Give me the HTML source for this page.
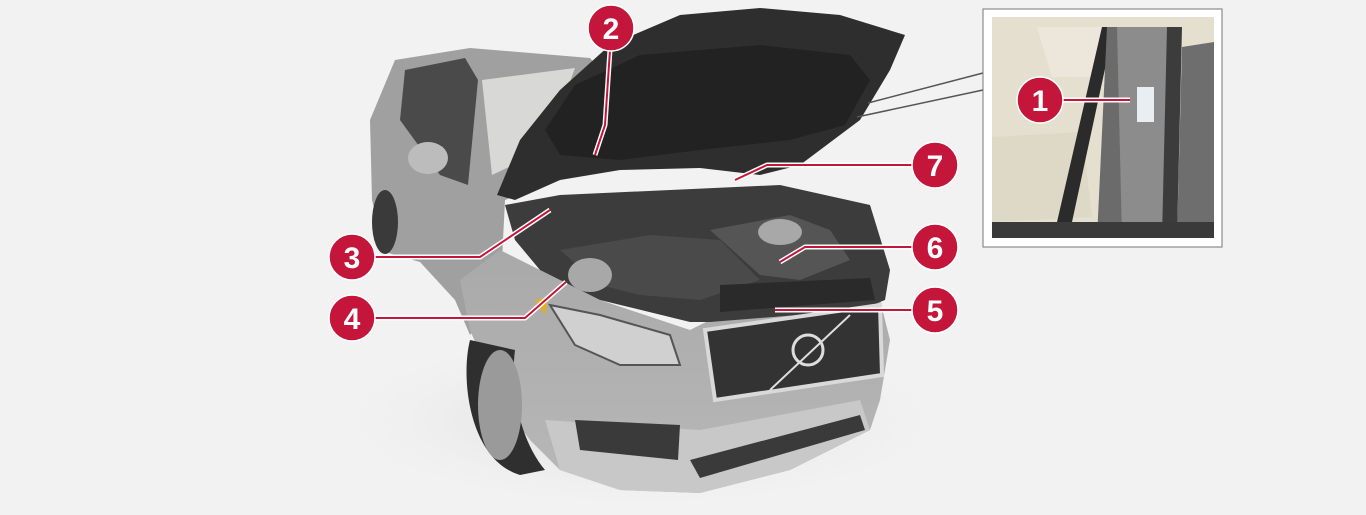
<!DOCTYPE html>
<html><head><meta charset="utf-8"><style>
html,body{margin:0;padding:0;background:#f2f2f2;}
svg{display:block}
text{font-family:"Liberation Sans",sans-serif;font-weight:bold;fill:#fff;font-size:30px}
</style></head><body>
<svg width="1366" height="515" viewBox="0 0 1366 515" xmlns="http://www.w3.org/2000/svg">
<defs>
<linearGradient id="body" x1="0" y1="0" x2="0" y2="1"><stop offset="0" stop-color="#a9a9a9"/><stop offset="1" stop-color="#b8b8b8"/></linearGradient>
<radialGradient id="shadow" cx="0.5" cy="0.5" r="0.5"><stop offset="0" stop-color="#d6d6d6"/><stop offset="1" stop-color="#f2f2f2" stop-opacity="0"/></radialGradient>
</defs>
<rect width="1366" height="515" fill="#f2f2f2"/>
<ellipse cx="640" cy="420" rx="330" ry="95" fill="url(#shadow)"/>
<!-- car side body -->
<path d="M395 60 L470 48 L590 58 L600 70 L560 180 L505 200 L500 300 L470 335 L455 300 L420 262 L385 252 L372 200 L370 120 Z" fill="#a0a0a0"/>
<path d="M405 70 L465 58 L478 80 L468 185 L440 175 L400 120 Z" fill="#4a4a4a"/>
<path d="M482 80 L575 68 L545 150 L492 175 Z" fill="#d8d8d6"/>
<ellipse cx="428" cy="158" rx="20" ry="16" fill="#bcbcbc"/>
<!-- rear wheel -->
<ellipse cx="385" cy="222" rx="13" ry="32" fill="#3a3a3a"/>
<!-- front body -->
<path d="M500 250 L600 300 L690 330 L710 320 L880 300 L890 340 L880 400 L870 430 L790 470 L700 493 L620 490 L560 470 L530 440 L500 400 L470 330 L460 280 Z" fill="url(#body)"/>
<path d="M545 420 L700 430 L860 400 L870 430 L790 470 L700 493 L620 490 L560 470 Z" fill="#c8c8c8"/>
<!-- front wheel -->
<path d="M470 340 C460 380 470 460 520 475 L545 470 C520 440 510 390 515 350 Z" fill="#2f2f2f"/>
<ellipse cx="500" cy="405" rx="22" ry="55" fill="#9a9a9a"/>
<!-- engine bay -->
<path d="M505 205 L560 195 L780 185 L870 205 L890 270 L885 300 L860 310 L710 322 L690 322 L600 300 L540 270 L515 240 Z" fill="#3c3c3c"/>
<path d="M560 250 L650 235 L720 240 L760 280 L700 300 L640 295 L600 285 Z" fill="#4a4a4a"/>
<path d="M710 230 L790 215 L830 230 L850 260 L800 280 L760 275 Z" fill="#555"/>
<ellipse cx="590" cy="275" rx="22" ry="17" fill="#a8a8a8"/>
<ellipse cx="780" cy="232" rx="22" ry="13" fill="#a8a8a8"/>
<path d="M720 285 L870 278 L875 300 L720 312 Z" fill="#2a2a2a"/>
<!-- headlight -->
<path d="M550 305 L600 315 L670 335 L680 365 L620 365 L575 345 Z" fill="#d0d0d0" stroke="#555" stroke-width="2"/>
<path d="M535 300 L548 297 L545 315 Z" fill="#e0b020"/>
<!-- grille -->
<path d="M705 330 L880 305 L882 375 L715 400 Z" fill="#333" stroke="#d9d9d9" stroke-width="4"/>
<circle cx="808" cy="350" r="15" fill="#333" stroke="#ddd" stroke-width="3"/>
<line x1="770" y1="390" x2="850" y2="315" stroke="#ddd" stroke-width="2"/>
<!-- lower bumper -->
<path d="M575 420 L680 425 L678 460 L580 450 Z" fill="#3a3a3a"/>
<path d="M690 460 L860 415 L865 430 L700 478 Z" fill="#3a3a3a"/>
<!-- hood -->
<path d="M497 195 L520 140 L560 90 L610 45 L680 15 L760 8 L840 15 L905 35 L890 70 L860 120 L800 165 L760 175 L700 168 L620 170 L560 180 L515 200 Z" fill="#2e2e2e"/>
<path d="M545 130 L575 85 L640 55 L760 45 L850 55 L870 80 L845 125 L790 140 L700 150 L620 160 L560 155 Z" fill="#222"/>
<!-- inset connectors -->
<line x1="983" y1="73" x2="868" y2="103" stroke="#555" stroke-width="1.5"/>
<line x1="983" y1="90" x2="857" y2="117" stroke="#555" stroke-width="1.5"/>
<!-- inset -->
<rect x="983" y="9" width="239" height="238" fill="#fff" stroke="#777" stroke-width="1"/>
<svg x="992" y="17" width="222" height="221" viewBox="0 0 222 221">
<rect width="222" height="221" fill="#e4dfcf"/>
<path d="M45 10 L110 10 L105 60 L60 60 Z" fill="#ece7da"/>
<path d="M0 120 L90 115 L100 200 L0 205 Z" fill="#ded8c6"/>
<path d="M110 10 L122 10 L80 205 L65 205 Z" fill="#2b2b2b"/>
<path d="M115 10 L150 10 L140 221 L105 221 Z" fill="#6b6b6b"/>
<path d="M125 10 L180 10 L175 221 L130 221 Z" fill="#8c8c8c"/>
<rect x="145" y="70" width="17" height="35" fill="#e8eef2"/>
<path d="M175 10 L190 10 L185 221 L170 221 Z" fill="#3c3c3c"/>
<path d="M190 30 L222 25 L222 221 L185 221 Z" fill="#6e6e6e"/>
<rect x="0" y="205" width="222" height="16" fill="#3a3a3a"/>
</svg>
<!-- callout lines -->
<g fill="none" stroke-linejoin="round">
<g stroke="#fff" stroke-width="5">
<path d="M610 50 L605 125 L595 155"/>
<path d="M370 257 L480 257 L550 210"/>
<path d="M370 318 L525 318 L566 282"/>
<path d="M915 310 L775 310"/>
<path d="M915 247 L805 247 L780 262"/>
<path d="M915 165 L767 165 L735 180"/>
<path d="M1060 100 L1130 100"/>
</g>
<g stroke="#c4163a" stroke-width="2">
<path d="M610 50 L605 125 L595 155"/>
<path d="M370 257 L480 257 L550 210"/>
<path d="M370 318 L525 318 L566 282"/>
<path d="M915 310 L775 310"/>
<path d="M915 247 L805 247 L780 262"/>
<path d="M915 165 L767 165 L735 180"/>
<path d="M1060 100 L1130 100"/>
</g>
</g>
<g fill="#c4163a" stroke="#fff" stroke-width="1.5">
<circle cx="1040" cy="100" r="23"/>
<circle cx="611" cy="28" r="23"/>
<circle cx="352" cy="257" r="23"/>
<circle cx="352" cy="318" r="23"/>
<circle cx="935" cy="310" r="23"/>
<circle cx="935" cy="247" r="23"/>
<circle cx="935" cy="165" r="23"/>
</g>
<g text-anchor="middle">
<text x="1040" y="111">1</text>
<text x="611" y="39">2</text>
<text x="352" y="268">3</text>
<text x="352" y="329">4</text>
<text x="935" y="321">5</text>
<text x="935" y="258">6</text>
<text x="935" y="176">7</text>
</g>
</svg>
</body></html>
